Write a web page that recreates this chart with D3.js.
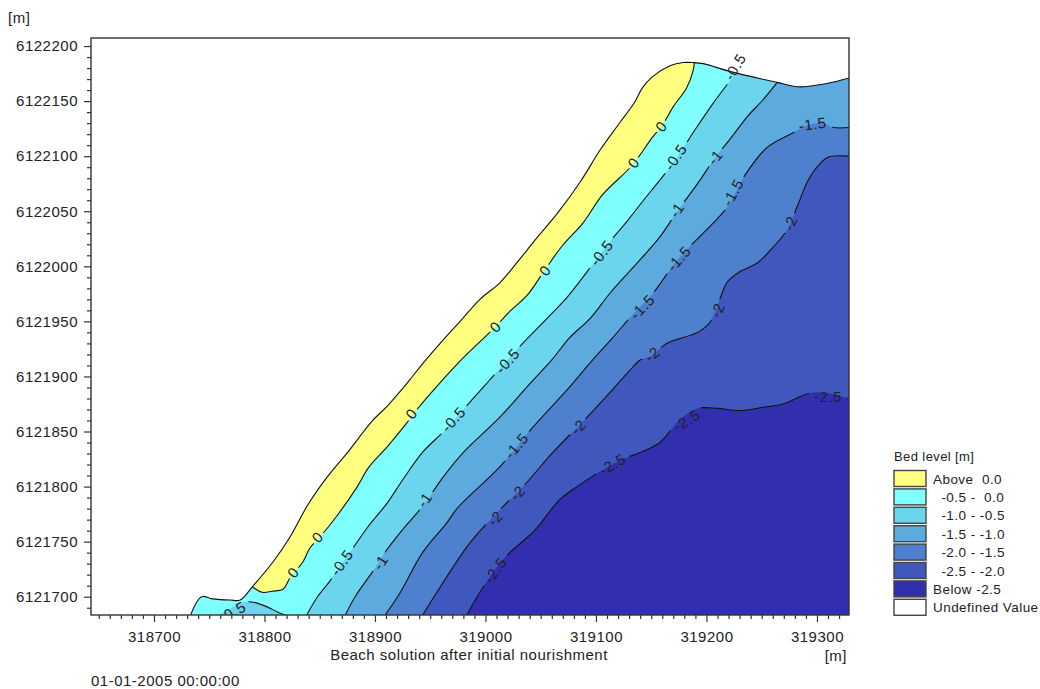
<!DOCTYPE html>
<html>
<head>
<meta charset="utf-8">
<script src="https://cdn.jsdelivr.net/npm/d3@7"></script>
<style>
  html, body { margin: 0; padding: 0; background: #fff; }
  text { font-family: "Liberation Sans", Arial, sans-serif; fill: #222; white-space: pre; }
  .tick text { font-size: 15px; letter-spacing: 0.5px; }
  .tick line { stroke: #333; stroke-width: 1.2px; }
  .domain { display: none; }
  .contour { fill: none; stroke: #111; stroke-width: 1.1px; }
</style>
</head>
<body>
<svg id="chart" width="1040" height="689"></svg>
<script>
// all readings in model metres, easting / northing
var coast = [[318733,6121683],[318743,6121700],[318753,6121698],[318769,6121697],[318778,6121697],[318789,6121709],
  [318808,6121732],[318823,6121754],[318839,6121783],[318857,6121809],[318876,6121832],[318897,6121859],[318912,6121874],
  [318930,6121895],[318941,6121909],[318959,6121930],[318977,6121950],[318995,6121970],[319013,6121985],[319029,6122004],
  [319045,6122024],[319065,6122048],[319086,6122077],[319104,6122106],[319122,6122131],[319135,6122149],[319142,6122162],
  [319151,6122172],[319167,6122182],[319179,6122185],[319188,6122185],[319197,6122184],[319221,6122177],[319264,6122167],
  [319283,6122163],[319309,6122166],[319329,6122171]];

var contour0 = [[318789,6121709],[318798,6121704],[318807,6121705],[318817,6121707],[318823,6121717],[318835,6121732],
  [318841,6121744],[318850,6121754],[318866,6121774],[318884,6121800],[318894,6121817],[318911,6121836],[318929,6121858],
  [318938,6121870],[318956,6121891],[318980,6121917],[319009,6121945],[319022,6121959],[319038,6121974],[319052,6121994],
  [319069,6122018],[319088,6122039],[319106,6122065],[319133,6122092],[319151,6122117],[319160,6122128],[319170,6122145],
  [319182,6122162],[319188,6122178],[319189,6122185]];

var contour05 = [[318838,6121683],[318848,6121700],[318859,6121714],[318868,6121727],[318882,6121747],[318894,6121764],
  [318911,6121785],[318925,6121806],[318943,6121831],[318962,6121850],[318980,6121870],[319004,6121897],[319029,6121925],
  [319056,6121953],[319074,6121972],[319095,6121999],[319114,6122024],[319129,6122042],[319143,6122060],[319156,6122076],
  [319167,6122090],[319178,6122106],[319191,6122126],[319206,6122148],[319223,6122171],[319226,6122176]];

// small pocket of -0.5 at the south end of the beach
var pocket05 = [[318758,6121683],[318765,6121687],[318774,6121692],[318781,6121695],[318790,6121695],[318802,6121691],
  [318812,6121686],[318820,6121683]];

var contour10 = [[318873,6121683],[318882,6121700],[318898,6121723],[318911,6121743],[318925,6121761],[318943,6121782],
  [318962,6121809],[318980,6121831],[319013,6121863],[319038,6121891],[319060,6121915],[319076,6121935],[319095,6121953],
  [319113,6121976],[319140,6122006],[319158,6122027],[319173,6122049],[319194,6122078],[319208,6122099],[319221,6122115],
  [319237,6122136],[319251,6122151],[319264,6122167]];

var contour15 = [[318909,6121683],[318923,6121704],[318943,6121740],[318965,6121767],[318975,6121781],[319013,6121818],
  [319043,6121854],[319074,6121888],[319097,6121915],[319115,6121935],[319133,6121956],[319152,6121976],[319170,6122001],
  [319182,6122015],[319200,6122033],[319219,6122054],[319235,6122083],[319255,6122108],[319278,6122121],[319291,6122128],
  [319305,6122130],[319315,6122126],[319329,6122126]];

var contour20 = [[318943,6121683],[318956,6121704],[318983,6121745],[318998,6121763],[319016,6121782],[319034,6121800],
  [319061,6121831],[319092,6121863],[319115,6121888],[319131,6121906],[319140,6121915],[319149,6121918],[319164,6121930],
  [319192,6121940],[319203,6121949],[319212,6121970],[319219,6121986],[319230,6121995],[319246,6122003],[319260,6122017],
  [319273,6122033],[319282,6122054],[319291,6122076],[319300,6122090],[319310,6122099],[319329,6122100]];

var contour25 = [[318983,6121683],[318995,6121704],[319016,6121734],[319038,6121754],[319047,6121763],[319067,6121788],
  [319083,6121800],[319101,6121812],[319122,6121824],[319140,6121831],[319158,6121840],[319176,6121861],[319192,6121871],
  [319210,6121871],[319230,6121869],[319251,6121872],[319269,6121875],[319294,6121885],[319309,6121885],[319329,6121880]];

var labels0 = [[319159,6122127],[319134,6122094],[319054,6121996],[319009,6121945],[318933,6121866],[318848,6121754],[318826,6121722]];
var labels05 = [[319226,6122181],[319172,6122099],[319105,6122012],[319020,6121914],[318971,6121861],[318870,6121731]];
var labelsPocket = [[318771,6121686]];
var labels10 = [[319208,6122099],[319173,6122051],[318945,6121788],[318905,6121731]];
var labels15 = [[319296,6122129],[319224,6122067],[319175,6122007],[319142,6121963],[319028,6121837]];
var labels20 = [[319276,6122039],[319210,6121960],[319151,6121920],[319084,6121854],[319029,6121794],[319009,6121771]];
var labels25 = [[319310,6121882],[319182,6121860],[319115,6121820],[319009,6121724]];

var xTicks = [318700, 318800, 318900, 319000, 319100, 319200, 319300];
var yTicks = [6121700, 6121750, 6121800, 6121850, 6121900, 6121950, 6122000, 6122050, 6122100, 6122150, 6122200];

var legendLabels = ["Above  0.0", "  -0.5 -  0.0", "  -1.0 - -0.5", "  -1.5 - -1.0", "  -2.0 - -1.5", "  -2.5 - -2.0", "Below -2.5", "Undefined Value"];
var legendColors = ["#ffff80", "#80ffff", "#6cd5ee", "#5daade", "#4f80ce", "#4058be", "#312fae", "#ffffff"];

var margin = { top: 38, right: 191, bottom: 74, left: 91 },
  width = 1040 - margin.left - margin.right,
  height = 689 - margin.top - margin.bottom;

var svg = d3.select("#chart");
var canvas = svg.append("g")
  .attr("transform", "translate(" + margin.left + "," + margin.top + ")");

var xScale = d3.scaleLinear().domain([318643, 319329]).range([0, width]);
var yScale = d3.scaleLinear().domain([6121683.4, 6122207.3]).range([height, 0]);

var xMin = xScale.domain()[0], xMax = xScale.domain()[1];
var yMin = yScale.domain()[0], yMax = yScale.domain()[1];

var line = d3.line()
  .x(function(d) { return xScale(d[0]); })
  .y(function(d) { return yScale(d[1]); })
  .curve(d3.curveCatmullRom.alpha(0.5));

// contour path carried on straight through the given corner points
function closed(c, corners) {
  return line(c) + corners.map(function(p) {
    return "L" + xScale(p[0]) + "," + yScale(p[1]);
  }).join("") + "Z";
}

var defs = svg.append("defs");
defs.append("clipPath").attr("id", "frameClip")
  .append("rect").attr("width", width).attr("height", height);

// land is everything under the coast line
var landPath = closed(coast, [[xMax, yMin], [coast[0][0], yMin]]);
defs.append("clipPath").attr("id", "landClip")
  .append("path").attr("d", landPath);

var bands = canvas.append("g")
  .attr("clip-path", "url(#frameClip)")
  .append("g")
  .attr("clip-path", "url(#landClip)");

// painted from shallow to deep, each one closed round the seaward corner
bands.append("path").attr("d", landPath).attr("fill", legendColors[0]);
bands.append("path")
  .attr("d", closed(contour0, [[xMax, yMax], [xMax, yMin], [xMin, yMin], [xMin, contour0[0][1]]]))
  .attr("fill", legendColors[1]);
bands.append("path").attr("d", closed(pocket05, [])).attr("fill", legendColors[2]);
[contour05, contour10, contour15, contour20, contour25].forEach(function(c, i) {
  bands.append("path")
    .attr("d", closed(c, [[xMax, yMax], [xMax, yMin]]))
    .attr("fill", legendColors[i + 2]);
});

// label direction follows the nearest stretch of its contour
function labelAngle(p, c) {
  var best = 0, bestDist = Infinity;
  for (var i = 0; i < c.length - 1; i++) {
    var mx = (c[i][0] + c[i + 1][0]) / 2, my = (c[i][1] + c[i + 1][1]) / 2;
    var dist = (mx - p[0]) * (mx - p[0]) + (my - p[1]) * (my - p[1]);
    if (dist < bestDist) { bestDist = dist; best = i; }
  }
  var dx = xScale(c[best + 1][0]) - xScale(c[best][0]);
  var dy = yScale(c[best + 1][1]) - yScale(c[best][1]);
  return Math.atan2(dy, dx) * 180 / Math.PI;
}

var labelSets = [
  { text: "0", pts: labels0, line: contour0 },
  { text: "-0.5", pts: labels05, line: contour05 },
  { text: "-0.5", pts: labelsPocket, line: pocket05 },
  { text: "-1", pts: labels10, line: contour10 },
  { text: "-1.5", pts: labels15, line: contour15 },
  { text: "-2", pts: labels20, line: contour20 },
  { text: "-2.5", pts: labels25, line: contour25 }
];
var labelRows = [];
labelSets.forEach(function(s) {
  s.pts.forEach(function(p) {
    labelRows.push({ text: s.text, x: xScale(p[0]), y: yScale(p[1]), angle: labelAngle(p, s.line) });
  });
});

// contour lines break where a label sits on them
var mask = defs.append("mask").attr("id", "labelGaps")
  .attr("maskUnits", "userSpaceOnUse")
  .attr("x", 0).attr("y", 0).attr("width", width).attr("height", height);
mask.append("rect").attr("width", width).attr("height", height).attr("fill", "#fff");
mask.selectAll(".gap")
  .data(labelRows)
  .enter().append("rect")
  .attr("class", "gap")
  .attr("x", function(d) { return -d.text.length * 4 - 3; })
  .attr("y", -7)
  .attr("width", function(d) { return d.text.length * 8 + 6; })
  .attr("height", 14)
  .attr("transform", function(d) { return "translate(" + d.x + "," + d.y + ") rotate(" + d.angle + ")"; })
  .attr("fill", "#000");

var lines = canvas.append("g").attr("clip-path", "url(#frameClip)");
lines.append("path").attr("class", "contour").attr("d", line(coast));
var maskedLines = lines.append("g").attr("mask", "url(#labelGaps)");
[contour0, contour05, pocket05, contour10, contour15, contour20, contour25].forEach(function(c) {
  maskedLines.append("path").attr("class", "contour").attr("d", line(c));
});

lines.selectAll(".clabel")
  .data(labelRows)
  .enter().append("text")
  .attr("class", "clabel")
  .attr("transform", function(d) { return "translate(" + d.x + "," + d.y + ") rotate(" + d.angle + ")"; })
  .attr("dy", "0.35em")
  .style("font-size", "15px")
  .style("letter-spacing", "0.5px")
  .style("text-anchor", "middle")
  .text(function(d) { return d.text; });

canvas.append("rect")
  .attr("width", width).attr("height", height)
  .attr("fill", "none").attr("stroke", "#333").attr("stroke-width", 1.4);

// axes, minor ticks every 10 m
var xMinor = d3.range(318650, 319330, 10).filter(function(v) { return xTicks.indexOf(v) < 0; });
var yMinor = d3.range(6121690, 6122210, 10).filter(function(v) { return yTicks.indexOf(v) < 0; });

canvas.append("g")
  .attr("transform", "translate(0," + height + ")")
  .call(d3.axisBottom(xScale).tickValues(xMinor).tickSize(4).tickFormat(""));
canvas.append("g")
  .attr("transform", "translate(0," + height + ")")
  .call(d3.axisBottom(xScale).tickValues(xTicks).tickSize(7).tickPadding(9).tickFormat(d3.format("d")));
canvas.append("g")
  .call(d3.axisLeft(yScale).tickValues(yMinor).tickSize(4).tickFormat(""));
canvas.append("g")
  .call(d3.axisLeft(yScale).tickValues(yTicks).tickSize(7).tickPadding(6).tickFormat(d3.format("d")));

function plainText(x, y, str, size, anchor) {
  return svg.append("text")
    .attr("x", x).attr("y", y)
    .style("font-size", size + "px")
    .style("letter-spacing", "0.5px")
    .style("text-anchor", anchor || "start")
    .text(str);
}

plainText(8, 23, "[m]", 15);
plainText(847, 661, "[m]", 15, "end");
plainText(469, 660, "Beach solution after initial nourishment", 15, "middle");
plainText(91, 686, "01-01-2005 00:00:00", 15);

// legend
var legend = svg.append("g").attr("transform", "translate(894,461)");
legend.append("text").attr("x", 0).attr("y", 0).style("font-size", "13px").style("letter-spacing", "0.4px").text("Bed level [m]");
var item = legend.selectAll(".item")
  .data(legendLabels)
  .enter().append("g")
  .attr("class", "item")
  .attr("transform", function(d, i) { return "translate(0," + (9.5 + i * 18.4) + ")"; });
item.append("rect")
  .attr("width", 32).attr("height", 16)
  .attr("fill", function(d, i) { return legendColors[i]; })
  .attr("stroke", "#444").attr("stroke-width", 1.4);
item.append("text")
  .attr("x", 39).attr("y", 13)
  .style("font-size", "13.5px")
  .style("letter-spacing", "0.45px")
  .text(function(d) { return d; });
</script>
</body>
</html>
